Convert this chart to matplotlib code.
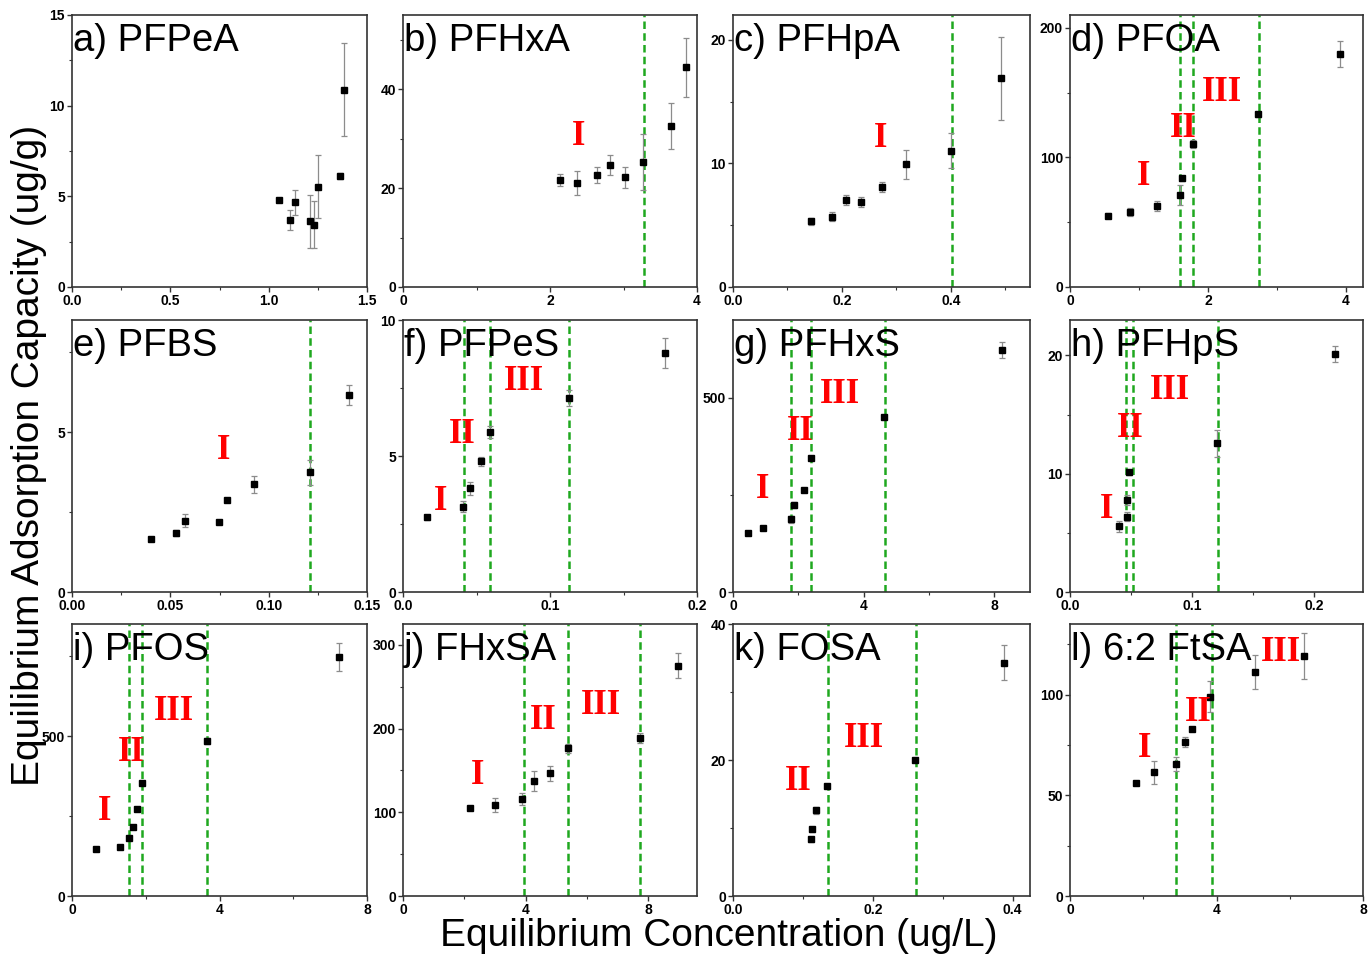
import matplotlib
matplotlib.use("Agg")
import matplotlib.pyplot as plt
from matplotlib.ticker import MultipleLocator

plt.rcParams['font.family'] = ['Liberation Sans', 'DejaVu Sans']

# ---- data: (x = Ce ug/L, y = qe ug/g, err) ----
names = ['a) PFPeA', 'b) PFHxA', 'c) PFHpA', 'd) PFOA',
         'e) PFBS', 'f) PFPeS', 'g) PFHxS', 'h) PFHpS',
         'i) PFOS', 'j) FHxSA', 'k) FOSA', 'l) 6:2 FtSA']

pfpea_x = [1.051, 1.107, 1.136, 1.212, 1.229, 1.251, 1.364, 1.385]
pfpea_y = [4.81, 3.71, 4.66, 3.62, 3.43, 5.54, 6.13, 10.87]
pfpea_e = [0.12, 0.55, 0.7, 1.47, 1.3, 1.74, 0.15, 2.57]

pfhxa_x = [2.136, 2.364, 2.645, 2.818, 3.014, 3.268, 3.645, 3.845]
pfhxa_y = [21.7, 21.1, 22.6, 24.6, 22.2, 25.3, 32.6, 44.4]
pfhxa_e = [1.2, 2.4, 1.6, 2.0, 2.1, 5.7, 4.7, 6.0]

pfhpa_x = [0.143, 0.181, 0.208, 0.234, 0.273, 0.318, 0.400, 0.491]
pfhpa_y = [5.30, 5.70, 7.04, 6.88, 8.06, 9.92, 11.02, 16.9]
pfhpa_e = [0.3, 0.4, 0.4, 0.4, 0.4, 1.2, 1.4, 3.36]

pfoa_x = [0.556, 0.870, 1.261, 1.589, 1.623, 1.778, 2.734, 3.913]
pfoa_y = [54.9, 57.7, 62.6, 71.0, 83.8, 110.3, 133.3, 180.0]
pfoa_e = [2, 3, 4, 7.7, 2, 3, 2, 10]

pfbs_x = [0.0400, 0.0529, 0.0573, 0.0749, 0.0788, 0.0924, 0.1208, 0.1407]
pfbs_y = [1.66, 1.85, 2.23, 2.20, 2.89, 3.37, 3.74, 6.15]
pfbs_e = [0.05, 0.1, 0.2, 0.05, 0.05, 0.27, 0.39, 0.31]

pfpes_x = [0.0164, 0.0409, 0.0455, 0.0530, 0.0591, 0.1127, 0.1784]
pfpes_y = [2.74, 3.14, 3.81, 4.80, 5.90, 7.14, 8.80]
pfpes_e = [0.1, 0.2, 0.25, 0.15, 0.22, 0.3, 0.55]

pfhxs_x = [0.449, 0.929, 1.777, 1.879, 2.165, 2.380, 4.637, 8.233]
pfhxs_y = [150.7, 163.5, 186.6, 224.3, 262.0, 345.9, 450.3, 623.3]
pfhxs_e = [3, 4, 8, 8, 4, 4, 6, 21]

pfhps_x = [0.0403, 0.0463, 0.0468, 0.0482, 0.1205, 0.2169]
pfhps_y = [5.54, 6.38, 7.77, 10.11, 12.57, 20.14]
pfhps_e = [0.45, 0.4, 0.4, 0.2, 1.13, 0.7]

pfos_x = [0.664, 1.291, 1.545, 1.645, 1.755, 1.891, 3.655, 7.245]
pfos_y = [146.3, 154.6, 182.6, 215.8, 272.8, 351.7, 484.4, 746.9]
pfos_e = [3, 3, 4, 4, 4, 4, 8, 44.6]

fhxsa_x = [2.174, 3.011, 3.891, 4.293, 4.793, 5.380, 7.739, 8.967]
fhxsa_y = [104.9, 108.9, 116.0, 137.0, 146.6, 176.4, 188.3, 275.0]
fhxsa_e = [2, 8, 7, 12, 9, 5, 6, 15]

fosa_x = [0.1110, 0.1133, 0.1181, 0.1352, 0.2605, 0.3880]
fosa_y = [8.31, 9.78, 12.6, 16.18, 19.99, 34.3]
fosa_e = [0.3, 0.4, 0.5, 0.3, 0.3, 2.6]

ftsa_x = [1.800, 2.291, 2.891, 3.127, 3.318, 3.836, 5.045, 6.382]
ftsa_y = [55.9, 61.3, 65.3, 76.5, 83.0, 99.0, 111.1, 119.3]
ftsa_e = [0.8, 5.8, 3.5, 2.5, 1.0, 7.8, 8.5, 11.4]

# stage boundaries (green dashed lines)
pfhxa_cut = [3.282]
pfhpa_cut = [0.402]
pfoa_cut = [1.594, 1.778, 2.744]
pfbs_cut = [0.1208]
pfpes_cut = [0.0414, 0.0595, 0.1127]
pfhxs_cut = [1.767, 2.39, 4.648]
pfhps_cut = [0.0457, 0.0512, 0.1211]
pfos_cut = [1.545, 1.909, 3.664]
fhxsa_cut = [3.946, 5.38, 7.75]
fosa_cut = [0.1362, 0.2624]
ftsa_cut = [2.891, 3.882]

series = [
    (pfpea_x, pfpea_y, pfpea_e, []),
    (pfhxa_x, pfhxa_y, pfhxa_e, pfhxa_cut),
    (pfhpa_x, pfhpa_y, pfhpa_e, pfhpa_cut),
    (pfoa_x, pfoa_y, pfoa_e, pfoa_cut),
    (pfbs_x, pfbs_y, pfbs_e, pfbs_cut),
    (pfpes_x, pfpes_y, pfpes_e, pfpes_cut),
    (pfhxs_x, pfhxs_y, pfhxs_e, pfhxs_cut),
    (pfhps_x, pfhps_y, pfhps_e, pfhps_cut),
    (pfos_x, pfos_y, pfos_e, pfos_cut),
    (fhxsa_x, fhxsa_y, fhxsa_e, fhxsa_cut),
    (fosa_x, fosa_y, fosa_e, fosa_cut),
    (ftsa_x, ftsa_y, ftsa_e, ftsa_cut),
]

# axis ranges and tick steps: (xmax, xmajor, ymax, ymajor)
axis_setup = [
    (1.5, 0.5, 15, 5), (4, 2, 55, 20), (0.545, 0.2, 22, 10), (4.25, 2, 210, 100),
    (0.15, 0.05, 8.5, 5), (0.2, 0.1, 10, 5), (9.1, 4, 700, 500), (0.24, 0.1, 23, 10),
    (8, 4, 850, 500), (9.6, 4, 325, 100), (0.425, 0.2, 40, 20), (8, 4, 135, 50),
]

# stage labels (roman numerals) placed in data coordinates
stage_labels = [
    [],
    [('I', 2.39, 30.4)],
    [('I', 0.27, 12.0)],
    [('I', 1.07, 85), ('II', 1.64, 122), ('III', 2.21, 150)],
    [('I', 0.0771, 4.41)],
    [('I', 0.0257, 3.34), ('II', 0.0405, 5.78), ('III', 0.0825, 7.74)],
    [('I', 0.92, 263), ('II', 2.05, 414), ('III', 3.27, 508)],
    [('I', 0.030, 7.0), ('II', 0.049, 13.84), ('III', 0.0816, 17.03)],
    [('I', 0.88, 264), ('II', 1.62, 448), ('III', 2.77, 576)],
    [('I', 2.45, 144), ('II', 4.57, 210), ('III', 6.45, 228)],
    [('II', 0.0938, 16.9), ('III', 0.1867, 23.1)],
    [('I', 2.045, 73), ('II', 3.5, 91.2), ('III', 5.77, 121)],
]

W, H = 1369, 956
fig = plt.figure(figsize=(W / 100, H / 100), dpi=100)

col_left = [72, 403, 733, 1070]
col_width = [295, 294, 297, 293]
row_top = [15, 320, 624]
row_h = 272

for i in range(12):
    r, c = divmod(i, 4)
    ax = fig.add_axes([col_left[c] / W, 1 - (row_top[r] + row_h) / H,
                       col_width[c] / W, row_h / H])
    x, y, e, cuts = series[i]
    xmax, xmaj, ymax, ymaj = axis_setup[i]

    ax.errorbar(x, y, yerr=e, fmt='none', ecolor='#8c8c8c', elinewidth=0.9,
                capsize=2.2, capthick=0.9, zorder=2)
    ax.plot(x, y, 's', color='black', markersize=4.2, zorder=3)
    for cx in cuts:
        ax.axvline(cx, color='#1fa81f', lw=1.8, linestyle=(0, (3, 1.7)), zorder=1)
    for txt, lx, ly in stage_labels[i]:
        ax.text(lx, ly, txt, color='#ff0000', fontsize=25, fontweight='bold',
                family='Liberation Serif', ha='center', va='center', zorder=4)

    ax.set_xlim(0, xmax)
    ax.set_ylim(0, ymax)
    ax.xaxis.set_major_locator(MultipleLocator(xmaj))
    ax.xaxis.set_minor_locator(MultipleLocator(xmaj / 2))
    ax.yaxis.set_major_locator(MultipleLocator(ymaj))
    ax.yaxis.set_minor_locator(MultipleLocator(ymaj / 2))
    ax.tick_params(which='major', direction='out', length=3.5, width=1,
                   labelsize=10, pad=1.5, color='#333333')
    ax.tick_params(which='minor', direction='out', length=2, width=0.8,
                   color='#333333')
    for lab in ax.get_xticklabels() + ax.get_yticklabels():
        lab.set_fontweight('bold')
    for sp in ax.spines.values():
        sp.set_color('#333333')
        sp.set_linewidth(1.2)

    ax.text(0.003, 0.867, names[i], transform=ax.transAxes, ha='left',
            va='baseline', fontsize=27.5, color='black', zorder=5)

fig.text(0.021, 0.524, 'Equilibrium Adsorption Capacity (ug/g)', rotation=90,
         ha='center', va='center', fontsize=28)
fig.text(0.525, 0.021, 'Equilibrium Concentration (ug/L)', ha='center',
         va='center', fontsize=28)

plt.savefig('out.png', dpi=100)
